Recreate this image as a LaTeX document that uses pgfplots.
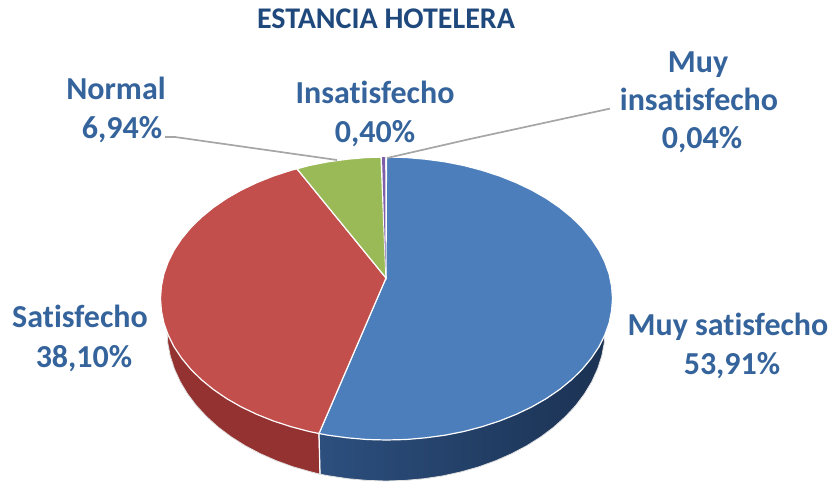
\documentclass[border=0pt]{standalone}
\usepackage{pgfplots}
\pgfplotsset{compat=1.18}
\usepackage{fontspec}
\setmainfont[Ligatures={NoRequired,NoCommon,NoContextual}]{Carlito}
\definecolor{tblue}{HTML}{4B7EBB}
\definecolor{tred}{HTML}{C24F4C}
\definecolor{tgreen}{HTML}{9ABA58}
\definecolor{tpurple}{HTML}{7F5FA8}
\definecolor{sidered}{HTML}{933230}
\definecolor{sideblueA}{HTML}{2C4F7E}
\definecolor{sideblueB}{HTML}{1B3253}
\definecolor{lab}{HTML}{35639B}
\definecolor{ttl}{HTML}{1F497D}
\definecolor{lead}{HTML}{A6A6A6}
\newcommand{\lbl}[3]{\node[anchor=base,inner sep=0pt,text=lab,font=\fontsize{32}{32}\selectfont\bfseries] at (axis cs:#1,#2) {#3};}
\begin{document}
\begin{tikzpicture}
\begin{axis}[scale only axis,width=831pt,height=483pt,xmin=0,xmax=831,ymin=0,ymax=483,y dir=reverse,hide axis,clip=false]
\path (axis cs:0,0) rectangle (axis cs:831,483);
% side walls
\addplot[draw=black!12,line width=0.8pt,fill=sidered] coordinates {(167,330)(167.8,343.2)(170.3,356.2)(174.5,369.1)(180.2,381.6)(187.5,393.8)(196.3,405.5)(206.6,416.6)(218.2,427.1)(231.1,436.8)(245.2,445.7)(260.4,453.7)(276.5,460.8)(293.4,466.9)(311.1,471.9)(320,474.2)(319,433.5)(250,340)} -- cycle;
\addplot[draw=black!12,line width=0.8pt,left color=sideblueA,right color=sideblueB] coordinates {(319,433.5)(320,474.2)(329.3,475.9)(348,478.7)(366.9,480.4)(386,481)(405.1,480.4)(424,478.7)(442.7,475.9)(460.9,471.9)(478.6,466.9)(495.5,460.8)(511.6,453.7)(526.8,445.7)(540.9,436.8)(553.8,427.1)(565.4,416.6)(575.7,405.5)(584.5,393.8)(591.8,381.6)(597.5,369.1)(601.7,356.2)(604.2,343.2)(605,330)(500,340)} -- cycle;
\addplot[draw=white,line width=1.2pt] coordinates {(319,433.5)(320,474.2)};
% top faces
\addplot[draw=white,line width=1.2pt,fill=tblue] coordinates {(386,278)(386.5,157)(406.2,157.5)(425.7,159.2)(445,161.8)(463.8,165.5)(482,170.3)(499.5,176)(516.1,182.6)(531.8,190.1)(546.3,198.4)(559.6,207.5)(571.6,217.3)(582.2,227.7)(591.3,238.7)(598.9,250.1)(604.8,261.9)(609.1,273.9)(611.6,286.2)(612.5,298.5)(611.6,310.8)(609.1,323.1)(604.8,335.1)(598.9,346.9)(591.3,358.3)(582.2,369.3)(571.6,379.7)(559.6,389.5)(546.3,398.6)(531.8,406.9)(516.1,414.4)(499.5,421)(482,426.7)(463.8,431.5)(445,435.2)(425.7,437.8)(406.2,439.5)(386.5,440)(366.8,439.5)(347.3,437.8)(328,435.2)(319,433.5)} -- cycle;
\addplot[draw=white,line width=1.2pt,fill=tred] coordinates {(386,278)(319,433.5)(309.2,431.5)(291,426.7)(273.5,421)(256.9,414.4)(241.2,406.9)(226.7,398.6)(213.4,389.5)(201.4,379.7)(190.8,369.3)(181.7,358.3)(174.1,346.9)(168.2,335.1)(163.9,323.1)(161.4,310.8)(160.5,298.5)(161.4,286.2)(163.9,273.9)(168.2,261.9)(174.1,250.1)(181.7,238.7)(190.8,227.7)(201.4,217.3)(213.4,207.5)(226.7,198.4)(241.2,190.1)(256.9,182.6)(273.5,176)(291,170.3)(297,168.8)} -- cycle;
\addplot[draw=white,line width=1.2pt,fill=tgreen] coordinates {(386,278)(297,168.8)(309.2,165.5)(328,161.8)(347.3,159.2)(366.8,157.5)(381,157.1)} -- cycle;
\addplot[draw=none,fill=tpurple] coordinates {(385.6,270)(382,157.1)(385.2,157)} -- cycle;
% leader lines
\addplot[draw=lead,line width=1.7pt] coordinates {(165,137)(175,137)(337,160)};
\addplot[draw=lead,line width=1.7pt] coordinates {(387,158)(470,139)(610,108.6)};
% text
\node[anchor=base,inner sep=0pt,text=ttl,font=\fontsize{30}{30}\selectfont\bfseries] at (axis cs:386,28.5) {ESTANCIA HOTELERA};
\lbl{116}{99}{Normal}
\lbl{122}{138}{6,94\%}
\lbl{375}{103}{Insatisfecho}
\lbl{375}{142}{0,40\%}
\lbl{698}{72}{Muy}
\lbl{699}{110}{insatisfecho}
\lbl{702}{148.5}{0,04\%}
\lbl{80}{327.5}{Satisfecho}
\lbl{84}{367}{38,10\%}
\lbl{728}{335.5}{Muy satisfecho}
\lbl{732}{374.5}{53,91\%}
\end{axis}
\end{tikzpicture}
\end{document}
